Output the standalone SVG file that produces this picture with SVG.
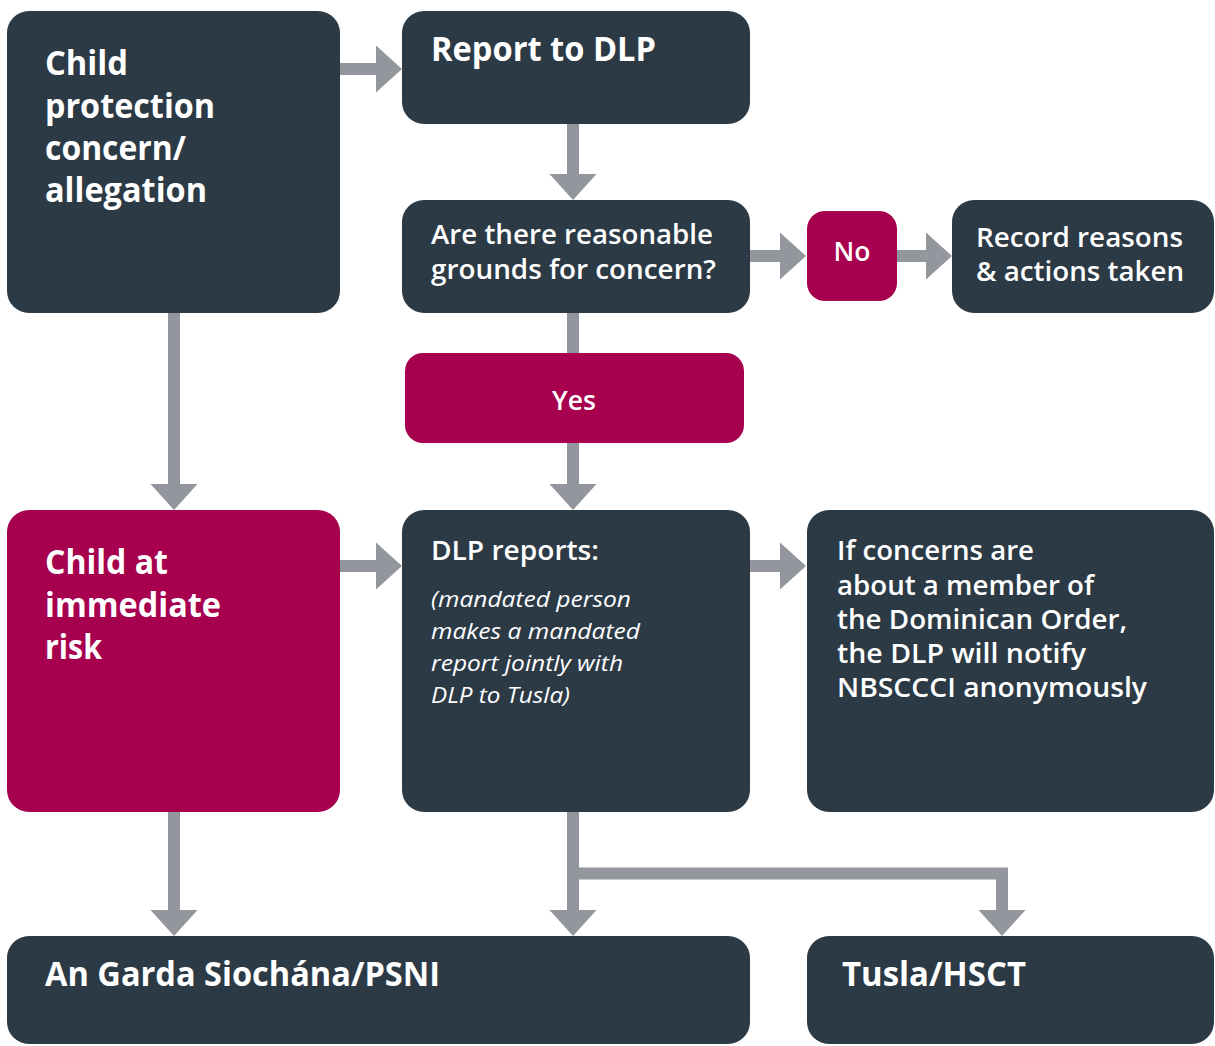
<svg xmlns="http://www.w3.org/2000/svg" width="1215" height="1046" viewBox="0 0 1215 1046">
  <style>
    .box { fill: #2c3a46; }
    .alert { fill: #a6004f; }
    .t { fill: #ffffff; font-family: "Open Sans", "Noto Sans", sans-serif; }
    .h1 { font-size: 33.5px; font-weight: 700; }
    .h2 { font-size: 26.5px; font-weight: 600; }
    .it { font-size: 22.5px; font-weight: 400; font-style: italic; }
    .mid { text-anchor: middle; }
    .conn { fill: none; stroke: #94969e; stroke-width: 12; stroke-linejoin: miter; }
  </style>
  <defs>
    <marker id="head" markerUnits="userSpaceOnUse" markerWidth="26" markerHeight="47" refX="2" refY="23.5" orient="auto" overflow="visible">
      <path d="M0,0 L26,23.5 L0,47 Z" fill="#94969e"/>
    </marker>
  </defs>

  <!-- connectors -->
  <g id="connectors">
    <path class="conn" d="M340,69 H378" marker-end="url(#head)"/>
    <path class="conn" d="M573,124 V176" marker-end="url(#head)"/>
    <path class="conn" d="M750,256 H782" marker-end="url(#head)"/>
    <path class="conn" d="M897,256 H928" marker-end="url(#head)"/>
    <path class="conn" d="M573,313 V353"/>
    <path class="conn" d="M573,443 V486" marker-end="url(#head)"/>
    <path class="conn" d="M174,313 V486" marker-end="url(#head)"/>
    <path class="conn" d="M340,566 H378" marker-end="url(#head)"/>
    <path class="conn" d="M750,566 H782" marker-end="url(#head)"/>
    <path class="conn" d="M174,812 V912" marker-end="url(#head)"/>
    <path class="conn" d="M573,812 V912" marker-end="url(#head)"/>
    <path class="conn" d="M573,873.5 H1002 V912" marker-end="url(#head)"/>
  </g>

  <g id="concern">
    <rect class="box" x="7" y="11" width="333" height="302" rx="22"/>
    <text class="t h1" x="45" y="75" textLength="83" lengthAdjust="spacingAndGlyphs">Child</text>
    <text class="t h1" x="45" y="117.5" textLength="170" lengthAdjust="spacingAndGlyphs">protection</text>
    <text class="t h1" x="45" y="160" textLength="141" lengthAdjust="spacingAndGlyphs">concern/</text>
    <text class="t h1" x="45" y="202" textLength="162" lengthAdjust="spacingAndGlyphs">allegation</text>
  </g>

  <g id="report">
    <rect class="box" x="402" y="11" width="348" height="113" rx="22"/>
    <text class="t h1" x="431" y="61" textLength="225" lengthAdjust="spacingAndGlyphs">Report to DLP</text>
  </g>

  <g id="grounds">
    <rect class="box" x="402" y="200" width="348" height="113" rx="22"/>
    <text class="t h2" x="431" y="244" textLength="282" lengthAdjust="spacingAndGlyphs">Are there reasonable</text>
    <text class="t h2" x="431" y="279" textLength="285" lengthAdjust="spacingAndGlyphs">grounds for concern?</text>
  </g>

  <g id="no">
    <rect class="alert" x="807" y="211" width="90" height="90" rx="18"/>
    <text class="t h2 mid" x="852" y="261" font-weight="700">No</text>
  </g>

  <g id="record">
    <rect class="box" x="952" y="200" width="262" height="113" rx="22"/>
    <text class="t h2" x="976" y="247" textLength="207" lengthAdjust="spacingAndGlyphs">Record reasons</text>
    <text class="t h2" x="976" y="281" textLength="208" lengthAdjust="spacingAndGlyphs">&amp; actions taken</text>
  </g>

  <g id="yes">
    <rect class="alert" x="405" y="353" width="339" height="90" rx="18"/>
    <text class="t h2 mid" x="574" y="410" font-weight="700">Yes</text>
  </g>

  <g id="immediate-risk">
    <rect class="alert" x="7" y="510" width="333" height="302" rx="22"/>
    <text class="t h1" x="45" y="574" textLength="123" lengthAdjust="spacingAndGlyphs">Child at</text>
    <text class="t h1" x="45" y="616.5" textLength="176" lengthAdjust="spacingAndGlyphs">immediate</text>
    <text class="t h1" x="45" y="659" textLength="57" lengthAdjust="spacingAndGlyphs">risk</text>
  </g>

  <g id="dlp-reports">
    <rect class="box" x="402" y="510" width="348" height="302" rx="22"/>
    <text class="t h2" x="431" y="560" textLength="168" lengthAdjust="spacingAndGlyphs">DLP reports:</text>
    <text class="t it" x="431" y="607" textLength="200" lengthAdjust="spacingAndGlyphs">(mandated person</text>
    <text class="t it" x="431" y="639" textLength="209" lengthAdjust="spacingAndGlyphs">makes a mandated</text>
    <text class="t it" x="431" y="671" textLength="192" lengthAdjust="spacingAndGlyphs">report jointly with</text>
    <text class="t it" x="431" y="703" textLength="139" lengthAdjust="spacingAndGlyphs">DLP to Tusla)</text>
  </g>

  <g id="order-notice">
    <rect class="box" x="807" y="510" width="407" height="302" rx="22"/>
    <text class="t h2" x="837" y="560" textLength="197" lengthAdjust="spacingAndGlyphs">If concerns are</text>
    <text class="t h2" x="837" y="595" textLength="257" lengthAdjust="spacingAndGlyphs">about a member of</text>
    <text class="t h2" x="837" y="629" textLength="290" lengthAdjust="spacingAndGlyphs">the Dominican Order,</text>
    <text class="t h2" x="837" y="663" textLength="249" lengthAdjust="spacingAndGlyphs">the DLP will notify</text>
    <text class="t h2" x="837" y="697" textLength="310" lengthAdjust="spacingAndGlyphs">NBSCCCI anonymously</text>
  </g>

  <g id="garda">
    <rect class="box" x="7" y="936" width="743" height="108" rx="22"/>
    <text class="t h1" x="45" y="986" textLength="395" lengthAdjust="spacingAndGlyphs">An Garda Siochána/PSNI</text>
  </g>

  <g id="tusla">
    <rect class="box" x="807" y="936" width="407" height="108" rx="22"/>
    <text class="t h1" x="842" y="986" textLength="184" lengthAdjust="spacingAndGlyphs">Tusla/HSCT</text>
  </g>
</svg>
